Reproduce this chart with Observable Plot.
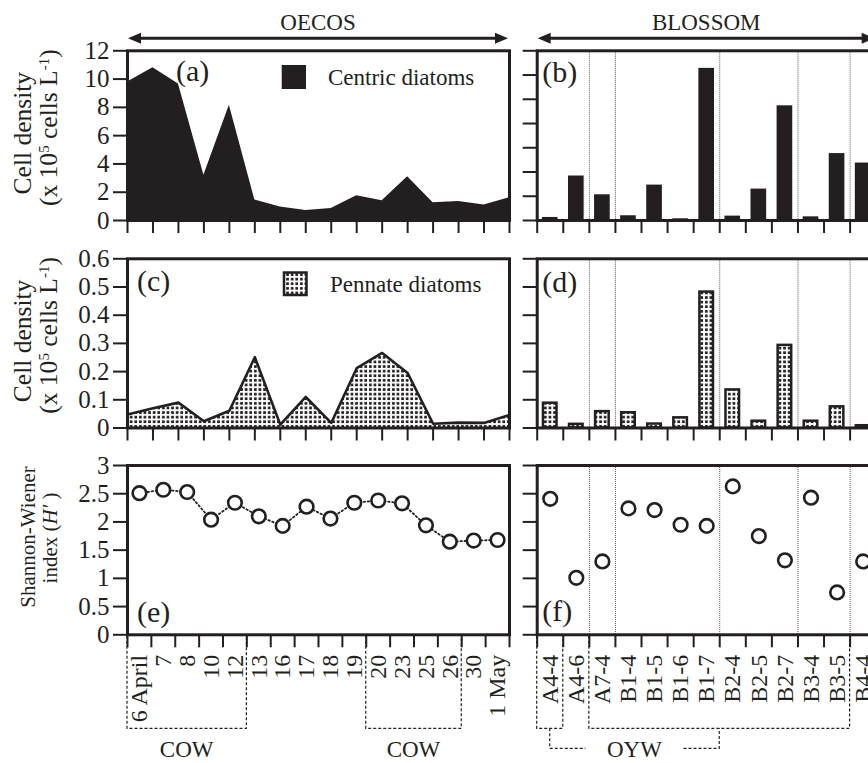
<!DOCTYPE html>
<html><head><meta charset="utf-8">
<script src="https://cdn.jsdelivr.net/npm/d3@7"></script>
<script src="https://cdn.jsdelivr.net/npm/@observablehq/plot@0.6"></script>
<style>
html,body{margin:0;padding:0;background:#fff;}
#chart{position:relative;width:868px;height:763px;overflow:hidden;background:#fff;}
#chart svg{position:absolute;overflow:visible;max-width:none;}
</style></head><body>
<svg width="0" height="0" style="position:absolute">
<defs>
<pattern id="dots" patternUnits="userSpaceOnUse" width="4.6" height="4.6">
<rect width="4.6" height="4.6" fill="#fff"/><rect x="1" y="1" width="2.7" height="2.7" fill="#231f20"/>
</pattern>
</defs></svg>
<div id="chart"></div>
<script>
// ---------- data ----------
const dates = ["6 April","7","8","10","12","13","16","17","18","19","20","23","25","26","30","1 May"];
const centricOecos = [9.8,10.8,9.65,3.2,8.15,1.45,0.95,0.7,0.85,1.75,1.4,3.1,1.25,1.35,1.1,1.6];
const pennateOecos = [0.048,0.07,0.09,0.024,0.061,0.251,0.012,0.11,0.018,0.212,0.266,0.195,0.015,0.019,0.018,0.046];
const shannonOecos = [2.51,2.57,2.53,2.04,2.34,2.10,1.93,2.27,2.06,2.34,2.38,2.33,1.94,1.65,1.67,1.68];

const sites = ["A4-4","A4-6","A7-4","B1-4","B1-5","B1-6","B1-7","B2-4","B2-5","B2-7","B3-4","B3-5","B4-4"];
const centricBlossom = [0.25,3.67,2.12,0.39,2.92,0.14,12.55,0.36,2.59,9.46,0.30,5.52,4.74];
const pennateBlossom = [0.088,0.013,0.058,0.054,0.014,0.036,0.482,0.135,0.024,0.293,0.024,0.075,0.008];
const shannonBlossom = [2.41,1.01,1.30,2.24,2.21,1.95,1.93,2.63,1.75,1.32,2.43,0.75,1.30];

const groupBreaks = [2,3,7,10,12];          // site group boundaries
const cowGroups = [[0,4],[10,13]];          // first/last date index
const oywGroups = [[0,0],[2,11]];           // first/last site index

const centricTicksL = [0,2,4,6,8,10,12];
const centricTicksR = [0,2,4,6,8,10,12,14];
const pennateTicks = [0,0.1,0.2,0.3,0.4,0.5,0.6];
const pennateTickLabels = ["0","0.1","0.2","0.3","0.4","0.5","0.6"];
const shannonTicks = [0,0.5,1,1.5,2,2.5,3];
const shannonTickLabels = ["0","0.5","1","1.5","2","2.5","3"];

// ---------- layout ----------
const INK = "#231f20";
const FONT = '"Liberation Serif","Times New Roman",serif';
const chart = document.getElementById("chart");
const L = {left:0, width:520, ml:127, mr:11};
const R = {left:520, width:355.7, ml:16.7, mr:0};
const rows = [{top:0, mt:50.3, h:169.7, mb:20},{top:240, mt:18.3, h:169.2, mb:20},{top:440, mt:25, h:169.3, mb:128.7}];

function make(col,row,opts){
  const svg = Plot.plot({width: col.width, height: row.mt+row.h+row.mb,
    marginLeft: col.ml, marginRight: col.mr, marginTop: row.mt, marginBottom: row.mb,
    style:{background:"transparent", fontFamily: FONT, fontSize:"24px", color: INK, overflow:"visible"}, ...opts});
  svg.style.left = col.left+"px"; svg.style.top = row.top+"px";
  chart.appendChild(svg);
  return svg;
}
function txt(svg, x, y, s, size, anchor){
  return d3.select(svg).append("text").attr("x",x).attr("y",y).attr("font-size",size)
    .attr("font-family",FONT).attr("fill",INK).attr("text-anchor",anchor||"start").text(s);
}
function vtitle(svg, x, cy, size){
  return d3.select(svg).append("text").attr("transform",`translate(${x},${cy}) rotate(-90)`)
    .attr("text-anchor","middle").attr("font-size",size).attr("font-family",FONT).attr("fill",INK);
}
function cellTitle(svg){
  const sy = svg.scale("y"); const cy = (sy.range[0]+sy.range[1])/2;
  vtitle(svg, 31, cy-2, 25.5).text("Cell density");
  const t = vtitle(svg, 56.5, cy-7.5, 25.5);
  t.append("tspan").text("(x 10");
  t.append("tspan").attr("baseline-shift","super").attr("font-size","15px").text("5");
  t.append("tspan").text(" cells L");
  t.append("tspan").attr("baseline-shift","super").attr("font-size","15px").text("-1");
  t.append("tspan").text(")");
}
function hArrow(svg, x0, x1, y){
  const g = d3.select(svg).append("g").attr("fill",INK);
  g.append("line").attr("x1",x0+10).attr("x2",x1-10).attr("y1",y).attr("y2",y).attr("stroke",INK).attr("stroke-width",3);
  g.append("path").attr("d",`M${x0},${y}L${x0+13},${y-5.5}L${x0+13},${y+5.5}Z`);
  g.append("path").attr("d",`M${x1},${y}L${x1-13},${y-5.5}L${x1-13},${y+5.5}Z`);
}
function dashPath(svg, d){
  d3.select(svg).append("path").attr("d",d).attr("fill","none").attr("stroke",INK)
    .attr("stroke-width",1.2).attr("stroke-dasharray","3,2");
}
function panelLabel(svg, s, dx, dy, fromBottom){
  const sx = svg.scale("x"), sy = svg.scale("y");
  const y = fromBottom ? sy.range[0] + dy : sy.range[1] + dy;
  txt(svg, sx.range[0]+dx, y, s, 30);
}

const iL = d3.range(dates.length);
const iR = d3.range(sites.length);
const axisTicks = (ticks, labels) => Plot.axisY({ticks, tickSize:14, tickPadding:4, strokeWidth:2, label:null, fontSize:25,
  tickFormat: labels ? (d => labels[ticks.indexOf(d)]) : (d => String(d))});
const axisTicksBlank = (ticks) => Plot.axisY({ticks, tickSize:14, strokeWidth:2, label:null, tickFormat: () => ""});
const frame = () => Plot.frame({stroke: INK, strokeWidth: 3});

// ---------- (a) ----------
const pa = make(L, rows[0], {
  x:{domain:[0, dates.length-1], axis:null}, y:{domain:[0,12], axis:null},
  marks:[
    Plot.areaY(centricOecos, {x:(d,i)=>i, y:d=>d, fill: INK, curve:"linear"}),
    axisTicks(centricTicksL),
    Plot.axisX({ticks: iL, tickSize:13, strokeWidth:2, tickFormat:()=>"", label:null}),
    frame()
  ]});
// ---------- (b) ----------
const pb = make(R, rows[0], {
  x:{domain:[0, sites.length], axis:null}, y:{domain:[0,14], axis:null},
  marks:[
    Plot.ruleX(groupBreaks, {stroke:"#555", strokeWidth:1, strokeDasharray:"1,1"}),
    Plot.rectY(centricBlossom, {x1:(d,i)=>i+0.2, x2:(d,i)=>i+0.8, y:d=>d, fill: INK}),
    axisTicksBlank(centricTicksR),
    Plot.axisX({ticks: d3.range(sites.length+1), tickSize:13, strokeWidth:2, tickFormat:()=>"", label:null}),
    frame()
  ]});
// ---------- (c) ----------
const pc = make(L, rows[1], {
  x:{domain:[0, dates.length-1], axis:null}, y:{domain:[0,0.6], axis:null},
  marks:[
    Plot.areaY(pennateOecos, {x:(d,i)=>i, y:d=>d, fill:"url(#dots)"}),
    Plot.lineY(pennateOecos, {x:(d,i)=>i, y:d=>d, stroke: INK, strokeWidth:2.6}),
    axisTicks(pennateTicks, pennateTickLabels),
    Plot.axisX({ticks: iL, tickSize:13, strokeWidth:2, tickFormat:()=>"", label:null}),
    frame()
  ]});
// ---------- (d) ----------
const pd = make(R, rows[1], {
  x:{domain:[0, sites.length], axis:null}, y:{domain:[0,0.6], axis:null},
  marks:[
    Plot.ruleX(groupBreaks, {stroke:"#555", strokeWidth:1, strokeDasharray:"1,1"}),
    Plot.rectY(pennateBlossom, {x1:(d,i)=>i+0.24, x2:(d,i)=>i+0.76, y:d=>d, fill:"url(#dots)", stroke: INK, strokeWidth:2.5}),
    axisTicksBlank(pennateTicks),
    Plot.axisX({ticks: d3.range(sites.length+1), tickSize:13, strokeWidth:2, tickFormat:()=>"", label:null}),
    frame()
  ]});
// ---------- (e) ----------
const pe = make(L, rows[2], {
  x:{domain:[0, dates.length], axis:null}, y:{domain:[0,3], axis:null},
  marks:[
    Plot.lineY(shannonOecos, {x:(d,i)=>i+0.5, y:d=>d, stroke: INK, strokeWidth:1.8, strokeDasharray:"1.5,2.6"}),
    Plot.dot(shannonOecos, {x:(d,i)=>i+0.5, y:d=>d, r:6.8, stroke: INK, strokeWidth:2.6, fill:"white"}),
    axisTicks(shannonTicks, shannonTickLabels),
    Plot.axisX({ticks: d3.range(dates.length+1), tickSize:13, strokeWidth:2, tickFormat:()=>"", label:null}),
    Plot.axisX({ticks: iL.map(i=>i+0.5), tickSize:0, tickPadding:20, tickRotate:-90, label:null,
      tickFormat: v => dates[Math.round(v-0.5)]}),
    frame()
  ]});
// ---------- (f) ----------
const pf = make(R, rows[2], {
  x:{domain:[0, sites.length], axis:null}, y:{domain:[0,3], axis:null},
  marks:[
    Plot.ruleX(groupBreaks, {stroke:"#555", strokeWidth:1, strokeDasharray:"1,1"}),
    Plot.dot(shannonBlossom, {x:(d,i)=>i+0.5, y:d=>d, r:6.8, stroke: INK, strokeWidth:2.6, fill:"white"}),
    axisTicksBlank(shannonTicks),
    Plot.axisX({ticks: d3.range(sites.length+1), tickSize:13, strokeWidth:2, tickFormat:()=>"", label:null}),
    Plot.axisX({ticks: iR.map(i=>i+0.5), tickSize:0, tickPadding:20, tickRotate:-90, label:null,
      tickFormat: v => sites[Math.round(v-0.5)]}),
    frame()
  ]});

// ---------- decorations ----------
{
  const sx = pa.scale("x");
  const x0 = sx.apply(0), x1 = sx.apply(dates.length-1);
  hArrow(pa, x0+1, x1-1, 38.3);
  txt(pa, (x0+x1)/2, 30, "OECOS", 23, "middle");
  const sxb = pb.scale("x");
  const b0 = sxb.apply(0), b1 = sxb.apply(sites.length);
  hArrow(pb, b0+1, b1-1, 38.3);
  txt(pb, (b0+b1)/2, 30, "BLOSSOM", 23, "middle");
}
cellTitle(pa);
cellTitle(pc);
{
  const sy = pe.scale("y"); const cy = (sy.range[0]+sy.range[1])/2;
  vtitle(pe, 35, cy-12.7, 21).text("Shannon-Wiener");
  const t = vtitle(pe, 57, cy-11.7, 21);
  t.append("tspan").text("index (");
  t.append("tspan").attr("font-style","italic").text("H′");
  t.append("tspan").text(" )");
}
panelLabel(pa, "(a)", 49, 31);
panelLabel(pb, "(b)", 5.5, 32);
panelLabel(pc, "(c)", 10, 33);
panelLabel(pd, "(d)", 5.5, 34);
panelLabel(pe, "(e)", 10, -12.6, true);
panelLabel(pf, "(f)", 5.5, -13, true);
{
  const sx = pa.scale("x"), sy = pa.scale("y");
  const fx = sx.range[0], fy = sy.range[1];
  d3.select(pa).append("rect").attr("x",fx+154.7).attr("y",fy+14.7).attr("width",24.3).attr("height",24).attr("fill",INK);
  txt(pa, fx+201, fy+26.7, "Centric diatoms", 23).attr("dy","0.35em");
  const sxc = pc.scale("x"), syc = pc.scale("y");
  const cx = sxc.range[0], cyy = syc.range[1];
  d3.select(pc).append("rect").attr("x",cx+157).attr("y",cyy+14.2).attr("width",22.5).attr("height",22.5)
    .attr("fill","url(#dots)").attr("stroke",INK).attr("stroke-width",2.5);
  txt(pc, cx+203, cyy+25.4, "Pennate diatoms", 23).attr("dy","0.35em");
}
{
  const sx = pe.scale("x"), sy = pe.scale("y");
  const y0 = sy.apply(0) + 1.5, yb = sy.apply(0) + 94, yt = sy.apply(0) + 123;
  for (const [a,b] of cowGroups) {
    const x0 = sx.apply(a), x1 = sx.apply(b+1);
    dashPath(pe, `M${x0},${y0}V${yb}H${x1}V${y0}`);
    txt(pe, (x0+x1)/2, yt, "COW", 23, "middle");
  }
}
{
  const sx = pf.scale("x"), sy = pf.scale("y");
  const y0 = sy.apply(0) + 1.5, yb = sy.apply(0) + 94, yc = sy.apply(0) + 114, yt = sy.apply(0) + 123;
  const centers = [];
  for (const [a,b] of oywGroups) {
    const x0 = sx.apply(a), x1 = sx.apply(b+1);
    dashPath(pf, `M${x0},${y0}V${yb}H${x1}V${y0}`);
    centers.push((x0+x1)/2);
  }
  const mid = (centers[0]+centers[1])/2;
  dashPath(pf, `M${centers[0]},${yb}V${yc}H${mid-49}`);
  dashPath(pf, `M${mid+49},${yc}H${centers[1]}V${yb}`);
  txt(pf, mid, yt, "OYW", 23, "middle");
}
</script>
</body></html>
